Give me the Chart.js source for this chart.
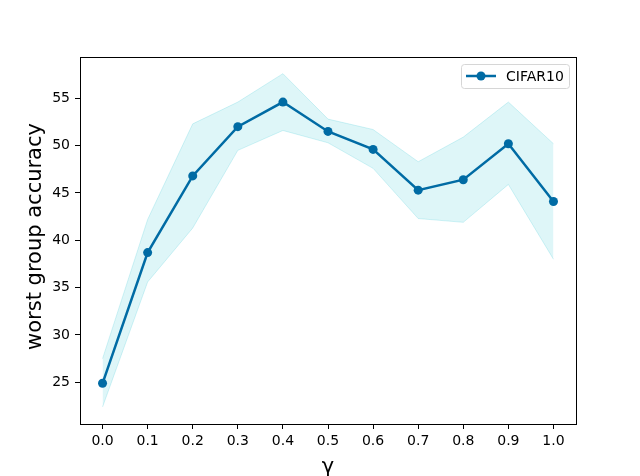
<!DOCTYPE html>
<html lang="en">
<head>
  <meta charset="UTF-8" />
  <title>worst group accuracy vs gamma</title>
  <script src="https://cdn.jsdelivr.net/npm/chart.js"></script>
  <style>
    html, body {
      margin: 0;
      padding: 0;
      background: #fff;
    }
    #wrap {
      width: 640px;
      height: 476px;
    }
  </style>
</head>
<body>
  <div id="wrap">
    <canvas id="grafico" width="640" height="476"></canvas>
  </div>

  <script>
    // values
    const gammas = [0.0, 0.1, 0.2, 0.3, 0.4, 0.5, 0.6, 0.7, 0.8, 0.9, 1.0];
    const accMedia = [24.9, 38.7, 46.8, 52.0, 54.6, 51.5, 49.6, 45.3, 46.4, 50.2, 44.1];
    const accAlta = [27.5, 42.2, 52.3, 54.6, 57.6, 52.8, 51.7, 48.3, 50.9, 54.6, 50.2];
    const accBaja = [22.4, 35.6, 41.3, 49.5, 51.6, 50.3, 47.6, 42.3, 41.9, 45.9, 38.0];
    const xTicks = [0.0, 0.1, 0.2, 0.3, 0.4, 0.5, 0.6, 0.7, 0.8, 0.9, 1.0];
    const yTicks = [25, 30, 35, 40, 45, 50, 55];
    const serieNombre = 'CIFAR10';

    const azul = '#006ba4';
    const fuente = "'DejaVu Sans', sans-serif";

    const puntos = (ys) => gammas.map((g, i) => ({ x: g, y: ys[i] }));

    // box around the axes + legend + axis titles
    const marcoPlugin = {
      id: 'marco',
      afterDraw(chart) {
        const { ctx, chartArea: a } = chart;
        ctx.save();
        ctx.strokeStyle = '#000';
        ctx.lineWidth = 1;
        ctx.strokeRect(a.left + 0.5, a.top + 0.5, a.right - a.left, a.bottom - a.top);

        // axis titles
        ctx.fillStyle = '#000';
        ctx.font = '21px ' + fuente;
        ctx.textAlign = 'center';
        ctx.textBaseline = 'top';
        ctx.fillText('γ', (a.left + a.right) / 2, 457);

        ctx.save();
        ctx.translate(36, (a.top + a.bottom) / 2 - 4);
        ctx.rotate(-Math.PI / 2);
        ctx.textBaseline = 'middle';
        ctx.fillText('worst group accuracy', 0, 0);
        ctx.restore();

        // legend
        const lx = 461, ly = 64, lw = 108, lh = 24;
        ctx.beginPath();
        ctx.roundRect(lx + 0.5, ly + 0.5, lw, lh, 3);
        ctx.fillStyle = 'rgba(255,255,255,0.8)';
        ctx.fill();
        ctx.strokeStyle = '#d6d6d6';
        ctx.stroke();

        const cy = ly + lh / 2;
        ctx.strokeStyle = azul;
        ctx.lineWidth = 2.5;
        ctx.beginPath();
        ctx.moveTo(466, cy);
        ctx.lineTo(496, cy);
        ctx.stroke();
        ctx.fillStyle = azul;
        ctx.beginPath();
        ctx.arc(481, cy, 4.5, 0, Math.PI * 2);
        ctx.fill();

        ctx.fillStyle = '#000';
        ctx.font = '14px ' + fuente;
        ctx.textAlign = 'left';
        ctx.textBaseline = 'middle';
        ctx.fillText(chart.data.datasets[0].label, 506, cy + 1);
        ctx.restore();
      }
    };

    const ctx = document.getElementById('grafico').getContext('2d');

    new Chart(ctx, {
      type: 'line',
      data: {
        datasets: [
          {
            label: serieNombre,
            data: puntos(accMedia),
            borderColor: azul,
            backgroundColor: azul,
            borderWidth: 2.5,
            pointRadius: 4.5,
            pointHoverRadius: 4.5,
            pointBorderWidth: 0,
            fill: false,
            tension: 0,
            order: 0
          },
          {
            label: 'baja',
            data: puntos(accBaja),
            borderColor: 'rgba(23,190,207,0.18)',
            borderWidth: 1,
            pointRadius: 0,
            fill: false,
            tension: 0,
            order: 2
          },
          {
            label: 'alta',
            data: puntos(accAlta),
            borderColor: 'rgba(23,190,207,0.18)',
            backgroundColor: 'rgba(23,190,207,0.14)',
            borderWidth: 1,
            pointRadius: 0,
            fill: '-1',
            tension: 0,
            order: 1
          }
        ]
      },
      options: {
        responsive: false,
        animation: false,
        layout: {
          padding: { top: 57, right: 64, left: 0, bottom: 0 }
        },
        plugins: {
          legend: { display: false },
          tooltip: { enabled: false }
        },
        scales: {
          x: {
            type: 'linear',
            min: -0.05,
            max: 1.05,
            afterBuildTicks(axis) {
              axis.ticks = xTicks.map(v => ({ value: v }));
            },
            afterFit(axis) {
              axis.height = 52;
            },
            grid: {
              drawOnChartArea: false,
              drawTicks: true,
              tickLength: 5,
              tickColor: '#000'
            },
            border: { display: false },
            ticks: {
              color: '#000',
              padding: 4,
              font: { family: fuente, size: 14 },
              maxRotation: 0,
              callback: (v) => v.toFixed(1)
            }
          },
          y: {
            type: 'linear',
            min: 20.6,
            max: 59.36,
            afterBuildTicks(axis) {
              axis.ticks = yTicks.map(v => ({ value: v }));
            },
            afterFit(axis) {
              axis.width = 80;
            },
            grid: {
              drawOnChartArea: false,
              drawTicks: true,
              tickLength: 5,
              tickColor: '#000'
            },
            border: { display: false },
            ticks: {
              color: '#000',
              padding: 5,
              font: { family: fuente, size: 14 },
              callback: (v) => String(v)
            }
          }
        }
      },
      plugins: [marcoPlugin]
    });
  </script>
</body>
</html>
